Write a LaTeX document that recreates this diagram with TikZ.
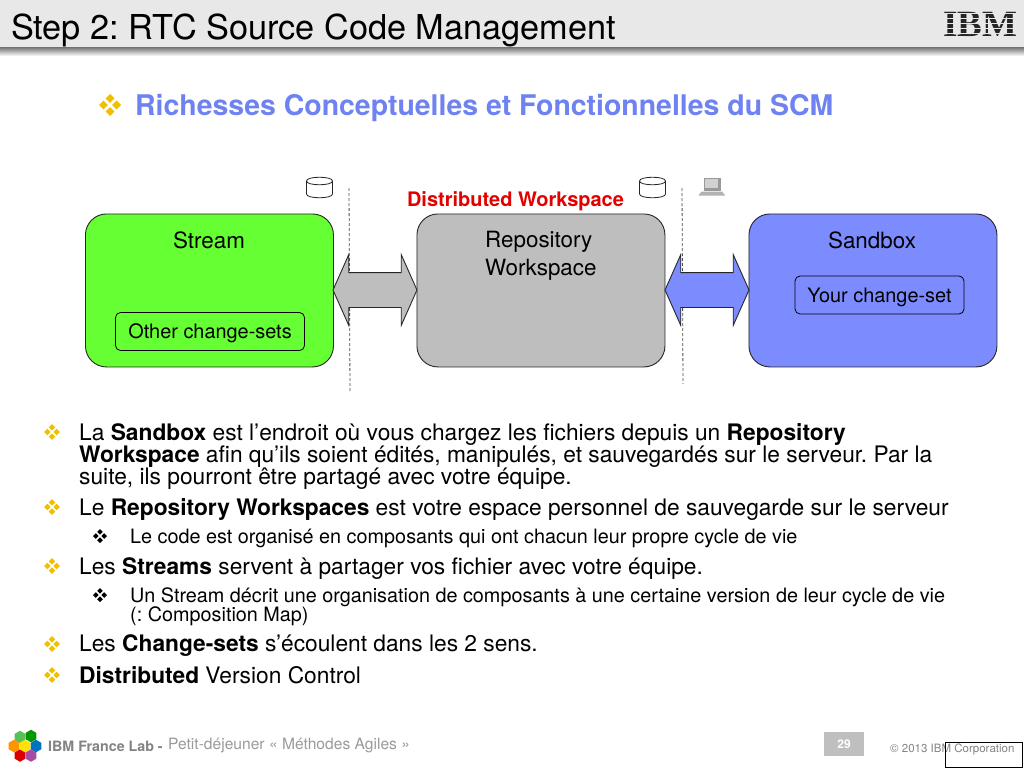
\documentclass[tikz,border=0pt]{standalone}
\usepackage{fontspec}
\setmainfont{TeX Gyre Heros}
\newfontfamily\logofont{Liberation Serif}
\usetikzlibrary{shapes.geometric,shapes.arrows}
\frenchspacing
\definecolor{hdr}{HTML}{E8E8E8}
\definecolor{grn}{HTML}{66FF33}
\definecolor{gry}{HTML}{BEBEBE}
\definecolor{blu}{HTML}{7C8CFF}
\definecolor{headblue}{HTML}{6E82F2}
\definecolor{bulletyellow}{HTML}{F0C000}
\definecolor{foot}{HTML}{9A9A9A}
\newcommand{\fsize}[1]{\fontsize{#1}{#1}\selectfont}
\tikzset{
  x=1pt,y=-1pt,
  bigbox/.style={draw=black!85,line width=0.9pt,rounded corners=21pt,minimum width=248pt,minimum height=153pt,anchor=north west},
  boxlabel/.style={font=\fsize{22.4},anchor=base,inner sep=0pt,align=center},
  minibox/.style={draw=black,line width=0.8pt,rounded corners=5pt,fill=none,font=\fsize{19.9},inner sep=0pt,minimum height=38pt,text depth=0pt},
  fat/.style={double arrow,draw=black!85,line width=0.9pt,minimum height=84pt,minimum width=70pt,inner sep=0pt,
    double arrow head extend=18pt,double arrow tip angle=132,text height=34pt,text depth=0pt,text width=0pt},
  sep/.style={densely dashed,draw=black!70,line width=0.8pt},
  can/.pic={\filldraw[fill=white,draw=black!85,line width=0.8pt] (-13,-6.5) -- (-13,6.5) .. controls (-13,11.5) and (13,11.5) .. (13,6.5) -- (13,-6.5) .. controls (13,-11.5) and (-13,-11.5) .. (-13,-6.5) -- cycle;
    \draw[black!85,line width=0.8pt] (-13,-6.5) .. controls (-13,-1.5) and (13,-1.5) .. (13,-6.5);},
  tx/.style={anchor=base west,inner sep=0pt,font=\fsize{22.75}},
  txs/.style={anchor=base west,inner sep=0pt,font=\fsize{19.8}},
  hex/.style={regular polygon,regular polygon sides=6,rotate=30,minimum size=12.5pt,inner sep=0pt},
  bl/.pic={\foreach \a/\b in {0/-4.6,0/4.6,-4.6/0,4.6/0}{\fill[pic actions] (\a-3.2,\b) -- (\a,\b-3.2) -- (\a+3.2,\b) -- (\a,\b+3.2) -- cycle;}},
  blbig/.pic={\foreach \a/\b in {0/-6.6,0/6.6,-6.6/0,6.6/0}{\fill[pic actions] (\a-4.4,\b) -- (\a,\b-4.4) -- (\a+4.4,\b) -- (\a,\b+4.4) -- cycle;}},
  bls/.pic={\foreach \a/\b in {0/-4.2,0/4.2,-4.2/0,4.2/0}{\fill[pic actions] (\a-2.8,\b) -- (\a,\b-2.8) -- (\a+2.8,\b) -- (\a,\b+2.8) -- cycle;}},
}
\begin{document}
\begin{tikzpicture}
\useasboundingbox (0,0) rectangle (1024,768);
\fill[white] (0,0) rectangle (1024,768);
% header
\fill[hdr] (0,0) rectangle (1024,48);
\shade[top color=black!50,bottom color=white] (0,48) rectangle (1024,56);
\node[anchor=base west,inner sep=0pt,font=\fsize{34.3}] (title) at (11,40) {Step 2: RTC Source Code Management};
\node[anchor=base,inner sep=0pt,font=\logofont\bfseries\fsize{37},text=black!85] (ibm) at (980,37) {IBM};
\foreach \yy in {13.5,18.5,23.5,28.5,33.5}{\draw[hdr,line width=1.5pt] (940,\yy) -- (1020,\yy);}
% heading
\pic[bulletyellow] at (110,105) {blbig};
\node[anchor=base west,inner sep=0pt,font=\bfseries\fsize{28.45},text=headblue] (head) at (135,115.5) {Richesses Conceptuelles et Fonctionnelles du SCM};
% separators
\coordinate (s1t) at (349,188); \coordinate (s1b) at (350,392);
\coordinate (s2t) at (682,188); \coordinate (s2b) at (683,384);
\draw[sep] (s1t) -- (s1b);
\draw[sep] (s2t) -- (s2b);
% icons
\pic at (319.5,187.5) {can};
\pic at (652.5,187.5) {can};
\node[draw=none,fill=black!40,minimum width=17pt,minimum height=13pt,inner sep=0pt] (lap) at (712,184) {};
\fill[black!18] (lap.north west) ++(2,2) rectangle ++(13,9);
\fill[black!30] (lap.south west) ++(-2,1) -- ++(21,0) -- ++(3,4) -- ++(-27,0) -- cycle;
% boxes
\node[bigbox,fill=grn] (stream) at (85,213.5) {};
\node[bigbox,fill=gry] (repo) at (416.5,213.5) {};
\node[bigbox,fill=blu] (sandbox) at (748.5,213.5) {};
\node[boxlabel] (l1) at (209,248) {Stream};
\node[boxlabel,align=left,anchor=north west] (l2) at (485,231) {Repository\\[6pt]Workspace};
\node[boxlabel] (l3) at (872,248) {Sandbox};
\node[minibox,minimum width=189pt] (other) at (210,331.5) {Other change-sets};
\node[minibox,minimum width=169pt] (yours) at (879.5,295) {Your change-set};
\node[anchor=base,inner sep=0pt,font=\bfseries\fsize{20},text=red!90!black] (dist) at (515.5,206) {Distributed Workspace};
% arrows
\node[fat,fill=gry] (a1) at (375,290) {};
\node[fat,fill=blu] (a2) at (707,290) {};
% body
\foreach \yy in {432,507,566,644,675}{\pic[bulletyellow] at (52,\yy) {bl};}
\foreach \yy in {536,595}{\pic[black] at (100,\yy) {bls};}
\node[tx] (t1) at (79,440) {La \textbf{Sandbox} est l’endroit où vous chargez les fichiers depuis un \textbf{Repository}};
\node[tx] (t2) at (79,462) {\textbf{Workspace} afin qu’ils soient édités, manipulés, et sauvegardés sur le serveur. Par la};
\node[tx] (t3) at (79,484) {suite, ils pourront être partagé avec votre équipe.};
\node[tx] (t4) at (79,515) {Le \textbf{Repository Workspaces} est votre espace personnel de sauvegarde sur le serveur};
\node[txs] (t5) at (130,543) {Le code est organisé en composants qui ont chacun leur propre cycle de vie};
\node[tx] (t6) at (79,574) {Les \textbf{Streams} servent à partager vos fichier avec votre équipe.};
\node[txs] (t7) at (130,602) {Un Stream décrit une organisation de composants à une certaine version de leur cycle de vie};
\node[txs] (t8) at (130,621) {(: Composition Map)};
\node[tx] (t9) at (79,651) {Les \textbf{Change-sets} s’écoulent dans les 2 sens.};
\node[tx] (t10) at (79,683) {\textbf{Distributed} Version Control};
% footer logo
\node[hex,fill=green!45!gray!90] (h1) at (20,737) {};
\node[hex,fill=green!60!black] (h2) at (31,736) {};
\node[hex,fill=orange!85!yellow] (h3) at (14,746) {};
\node[hex,fill=blue!40!cyan!75!black] (h5) at (36,746) {};
\node[hex,fill=red!85!black] (h6) at (20,755.5) {};
\node[hex,fill=violet!70!white] (h7) at (31,755.5) {};
\node[hex,fill=yellow!85!orange] (h4) at (25,746) {};
\node[anchor=base west,inner sep=0pt,font=\bfseries\fsize{14.25},text=foot!85!black] (lab) at (48,751) {IBM France Lab -};
\node[anchor=base west,inner sep=0pt,font=\fsize{15.6},text=foot] (pd) at (168,749.5) {Petit-déjeuner « Méthodes Agiles »};
\node[fill=black!25,minimum width=40pt,minimum height=24pt,inner sep=0pt,text=white,font=\bfseries\fsize{12}] (num) at (844,744) {29};
\node[anchor=base west,inner sep=0pt,font=\fsize{11.5},text=foot!85!black] (copy) at (890,752) {© 2013 IBM Corporation};
\node[draw=black,line width=0.8pt,minimum width=77pt,minimum height=25pt,inner sep=0pt,anchor=north west] (blank) at (945,742) {};
\end{tikzpicture}
\end{document}
